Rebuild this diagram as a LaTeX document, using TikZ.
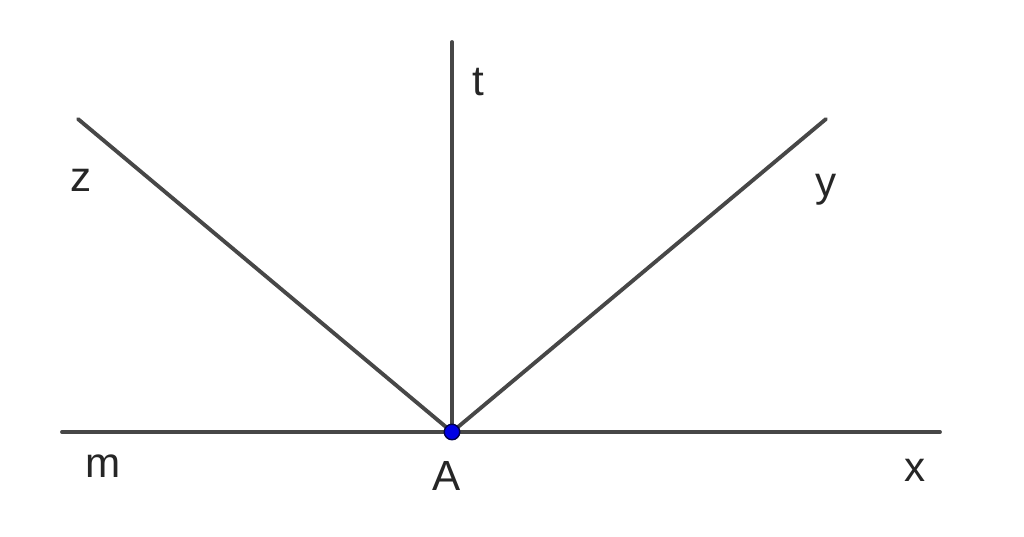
\documentclass[tikz,border=0pt]{standalone}
\usepackage{fontspec}
\setmainfont{Liberation Sans}
\tikzset{
    ray/.style={draw=black!72, line width=1.1pt, line cap=round},
    lbl/.style={font=\fontsize{12}{14}\selectfont, text=black!85, inner sep=0pt},
    pt/.style={circle, fill=blue!90!black, draw=black!70!blue, line width=0.4pt, minimum size=0.155cm, inner sep=0pt}
}
\begin{document}
\begin{tikzpicture}
            \useasboundingbox (0,0) rectangle (10.24,5.36);
            \coordinate (A) at (4.52,1.04);
            \coordinate (m) at (0.62,1.04);
            \coordinate (x) at (9.40,1.04);
            \coordinate (t) at (4.52,4.94);
            \coordinate (z) at (0.78,4.17);
            \coordinate (y) at (8.26,4.17);

            \draw[ray] (m) -- (x);
            \draw[ray] (A) -- (t);
            \draw[ray] (A) -- (z);
            \draw[ray] (A) -- (y);
            \node[pt] (Apt) at (A) {};

            \node[lbl] (tl) at (4.78,4.54) {t};
            \node[lbl] (zl) at (0.81,3.56) {z};
            \node[lbl] (yl) at (8.26,3.46) {y};
            \node[lbl] (ml) at (1.03,0.70) {m};
            \node[lbl] (Al) at (4.47,0.60) {A};
            \node[lbl] (xl) at (9.15,0.66) {x};
\end{tikzpicture}
\end{document}
